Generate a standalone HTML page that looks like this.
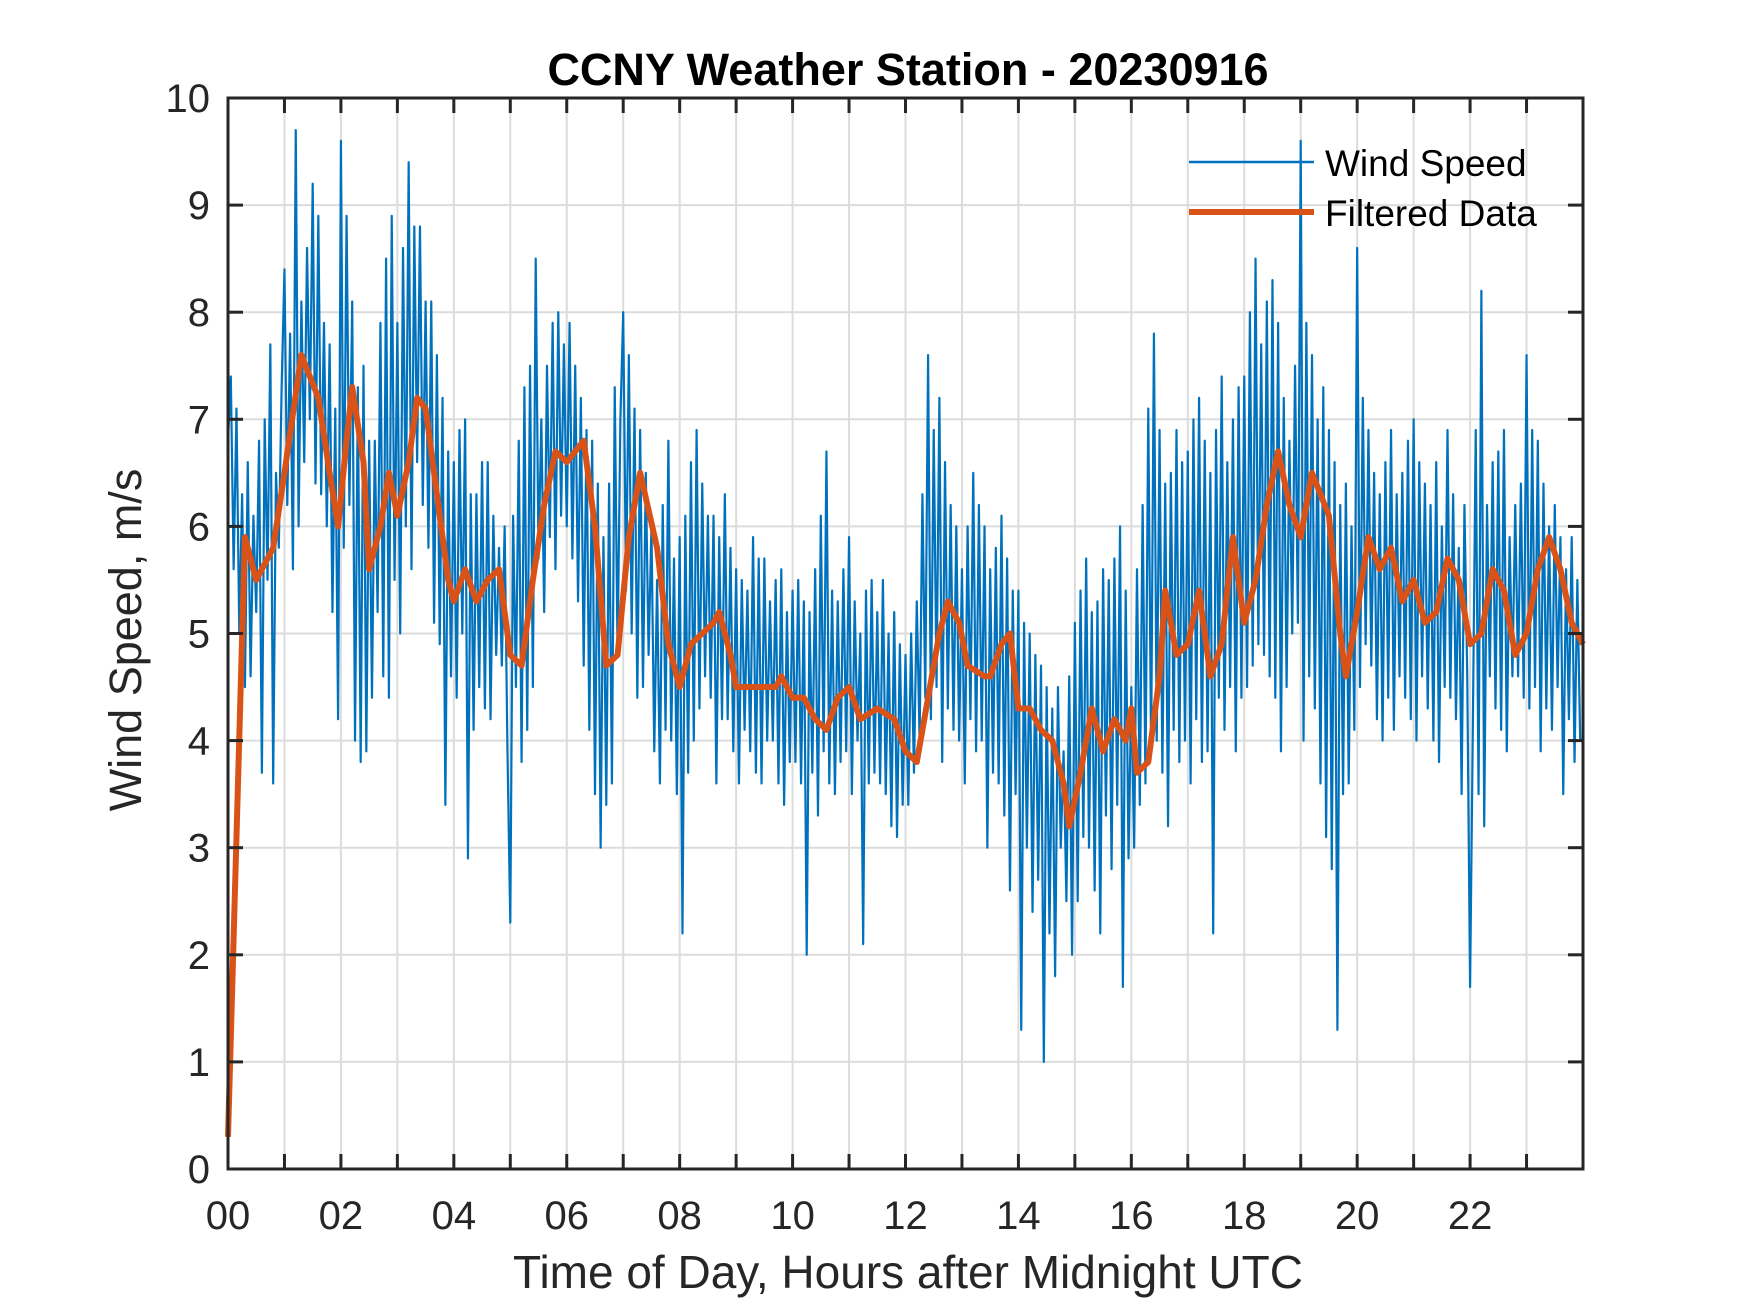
<!DOCTYPE html>
<html><head><meta charset="utf-8"><style>
html,body{margin:0;padding:0;background:#fff;}
svg{display:block;font-family:"Liberation Sans",Arial,sans-serif;}
</style></head><body>
<svg id="chart" width="1750" height="1313" viewBox="0 0 1750 1313" xmlns="http://www.w3.org/2000/svg">
<rect x="0" y="0" width="1750" height="1313" fill="#fff"/>
<g id="grid"></g>
<g id="series"></g>
<g id="axes"></g>
<text x="908" y="85" text-anchor="middle" font-size="45" font-weight="bold" fill="#000">CCNY Weather Station - 20230916</text>
<text x="908" y="1288" text-anchor="middle" font-size="46" fill="#262626">Time of Day, Hours after Midnight UTC</text>
<text transform="translate(141,640) rotate(-90)" text-anchor="middle" font-size="45" fill="#262626">Wind Speed, m/s</text>
<g>
<line x1="1189" y1="162" x2="1314" y2="162" stroke="#0072BD" stroke-width="2.5"/>
<text x="1325" y="176" font-size="37" fill="#000">Wind Speed</text>
<line x1="1189" y1="212" x2="1314" y2="212" stroke="#D95319" stroke-width="6"/>
<text x="1325" y="226" font-size="37" fill="#000">Filtered Data</text>
</g>
</svg>
<script>
const xTickLabels=["00","02","04","06","08","10","12","14","16","18","20","22"];
const yTickLabels=[0,1,2,3,4,5,6,7,8,9,10];
const windSpeed=[
6.8,7.4,5.6,7.1,5.0,6.3,4.5,6.6,4.6,6.1,5.2,6.8,3.7,7.0,5.5,7.7,3.6,6.5,5.8,7.3,
8.4,6.2,7.8,5.6,9.7,6.0,8.1,6.6,8.6,7.0,9.2,6.4,8.9,6.3,7.9,6.0,7.7,5.2,7.1,4.2,
9.6,5.8,8.9,6.2,8.1,4.0,7.3,3.8,7.5,3.9,6.8,4.4,6.8,5.2,7.9,4.6,8.5,4.4,8.9,5.5,
7.9,5.0,8.6,6.0,9.4,5.6,8.8,6.6,8.8,6.2,8.1,5.8,8.1,5.1,7.6,4.9,7.2,3.4,6.7,4.6,
6.6,4.4,6.9,5.0,7.0,2.9,6.3,4.1,6.3,4.5,6.6,4.3,6.6,4.2,6.1,4.8,5.8,4.7,6.0,3.9,
2.3,6.1,4.5,6.8,3.8,7.3,4.1,7.5,4.5,8.5,5.7,7.0,5.2,7.5,5.9,7.9,5.6,8.0,6.1,7.7,
6.0,7.9,5.7,7.5,5.3,7.2,4.7,6.9,4.1,6.8,3.5,6.4,3.0,5.9,3.4,6.4,3.6,7.3,4.8,7.0,
8.0,5.4,7.6,5.0,7.1,4.4,6.9,4.5,6.5,4.8,6.0,3.9,5.5,3.6,6.2,4.1,6.8,4.0,5.7,3.5,
5.9,2.2,6.1,3.7,6.6,4.0,6.9,4.3,6.4,4.6,6.1,4.4,6.1,3.6,5.9,4.2,6.3,4.2,5.8,3.9,
5.6,3.6,5.5,4.1,5.4,3.9,5.9,3.7,5.7,3.6,5.7,4.0,5.3,4.0,5.5,3.6,5.6,3.4,5.2,3.8,
5.4,3.8,5.5,3.6,5.3,2.0,5.2,3.7,5.6,3.3,6.1,3.9,6.7,3.6,5.4,3.5,5.3,3.8,5.6,3.9,
5.9,3.5,5.3,4.0,5.0,2.1,5.4,3.6,5.5,3.7,5.2,3.6,5.5,3.5,5.0,3.2,5.2,3.1,4.9,3.4,
4.8,3.4,5.0,3.7,5.3,4.0,6.3,4.4,7.6,4.2,6.9,4.5,7.2,3.8,6.6,4.3,6.2,4.1,6.0,4.0,
5.6,3.6,6.0,4.2,6.5,3.9,6.2,4.0,6.0,3.0,5.6,3.7,5.8,3.6,6.1,3.3,5.7,2.6,5.4,3.5,
5.4,1.3,5.1,3.0,5.0,2.4,4.8,2.7,4.7,1.0,4.5,2.2,4.3,1.8,4.5,3.0,3.9,2.5,4.6,2.0,
5.1,2.5,5.4,3.1,5.7,3.0,5.2,2.6,5.3,2.2,5.6,3.3,5.5,2.8,5.7,3.4,6.0,1.7,5.4,2.9,
4.5,3.0,5.6,3.4,6.2,3.6,7.1,3.9,7.8,4.0,6.9,3.7,6.4,3.2,6.5,4.1,6.9,3.8,6.6,4.0,
6.7,3.6,7.0,4.2,7.2,3.8,6.8,3.9,6.5,2.2,6.9,4.4,7.4,4.1,6.6,4.5,7.0,3.9,7.3,4.4,
7.4,4.5,8.0,4.7,8.5,4.9,7.7,4.8,8.1,4.6,8.3,4.4,7.9,3.9,7.2,4.5,6.8,5.0,7.5,5.1,
9.6,4.0,7.9,4.6,7.6,4.3,7.0,3.6,7.3,3.1,6.9,2.8,6.6,1.3,6.2,3.5,6.4,3.6,6.0,4.1,
8.6,4.5,7.2,4.9,6.9,4.7,6.5,4.2,6.3,4.0,6.6,4.4,6.9,4.1,6.3,4.6,6.5,4.4,6.8,4.2,
7.0,4.0,6.6,4.6,6.4,4.3,6.2,4.0,6.6,3.8,6.0,4.5,6.9,4.4,6.3,4.2,5.8,3.5,6.2,4.6,
1.7,4.2,6.9,3.5,8.2,3.2,6.2,4.6,6.6,4.3,6.7,4.1,6.9,3.9,5.9,4.6,6.2,4.6,6.4,4.4,
7.6,4.3,6.9,4.5,6.8,3.9,6.4,4.3,6.0,4.1,6.2,4.5,5.9,3.5,5.6,4.2,5.9,3.8,5.5,4.0];
const filteredHours=[0,0.3,0.5,0.8,1.0,1.3,1.6,1.8,1.95,2.1,2.2,2.4,2.5,2.7,2.85,3.0,3.2,3.35,3.5,3.7,3.9,4.0,4.2,4.4,4.6,4.8,5.0,5.2,5.4,5.6,5.8,6.0,6.3,6.5,6.7,6.9,7.1,7.3,7.6,7.8,8.0,8.2,8.4,8.6,8.7,8.9,9.0,9.4,9.7,9.8,10.0,10.2,10.4,10.6,10.8,11.0,11.2,11.5,11.8,12.0,12.2,12.4,12.6,12.75,12.95,13.1,13.4,13.5,13.7,13.85,14.0,14.2,14.4,14.6,14.8,14.9,15.1,15.3,15.5,15.7,15.9,16.0,16.1,16.3,16.5,16.6,16.8,17.0,17.2,17.4,17.6,17.8,18.0,18.2,18.4,18.6,18.8,19.0,19.2,19.5,19.7,19.8,20.0,20.2,20.4,20.6,20.8,21.0,21.2,21.4,21.6,21.8,22.0,22.2,22.4,22.6,22.8,23.0,23.2,23.4,23.6,23.8,24.0];
const filteredValues=[0.3,5.9,5.5,5.8,6.5,7.6,7.2,6.5,6.0,6.8,7.3,6.6,5.6,6.0,6.5,6.1,6.6,7.2,7.1,6.3,5.5,5.3,5.6,5.3,5.5,5.6,4.8,4.7,5.5,6.2,6.7,6.6,6.8,6.0,4.7,4.8,5.9,6.5,5.8,4.9,4.5,4.9,5.0,5.1,5.2,4.8,4.5,4.5,4.5,4.6,4.4,4.4,4.2,4.1,4.4,4.5,4.2,4.3,4.2,3.9,3.8,4.4,5.0,5.3,5.1,4.7,4.6,4.6,4.9,5.0,4.3,4.3,4.1,4.0,3.6,3.2,3.7,4.3,3.9,4.2,4.0,4.3,3.7,3.8,4.6,5.4,4.8,4.9,5.4,4.6,4.9,5.9,5.1,5.5,6.2,6.7,6.2,5.9,6.5,6.1,5.0,4.6,5.2,5.9,5.6,5.8,5.3,5.5,5.1,5.2,5.7,5.5,4.9,5.0,5.6,5.4,4.8,5.0,5.6,5.9,5.6,5.1,4.9];

const L=228,R=1583,T=98,B=1169,XMAX=24,YMAX=10;
const NS="http://www.w3.org/2000/svg";
function xs(h){return L+(R-L)*h/XMAX;}
function ys(v){return B-(B-T)*v/YMAX;}
function mk(tag,attrs,parent){const e=document.createElementNS(NS,tag);for(const k in attrs)e.setAttribute(k,attrs[k]);parent.appendChild(e);return e;}
const grid=document.getElementById('grid'),axes=document.getElementById('axes'),series=document.getElementById('series');
for(let h=1;h<XMAX;h++){
  const g=mk('line',{x1:xs(h),x2:xs(h),y1:T,y2:B,stroke:'#dcdcdc','stroke-width':2},grid);
  
  
}
for(let v=1;v<YMAX;v++){
  const g=mk('line',{x1:L,x2:R,y1:ys(v),y2:ys(v),stroke:'#dcdcdc','stroke-width':2},grid);
  
  
}
let d='';
const n=windSpeed.length;
windSpeed.forEach((v,i)=>{d+=(i?'L':'M')+xs(i*XMAX/n).toFixed(2)+','+ys(v).toFixed(2);});
const ws=mk('path',{d:d,fill:'none',stroke:'#0072BD','stroke-width':2.2,'stroke-linejoin':'round'},series);


let d2='';
filteredHours.forEach((h,i)=>{d2+=(i?'L':'M')+xs(h).toFixed(2)+','+ys(filteredValues[i]).toFixed(2);});
const fl=mk('path',{d:d2,fill:'none',stroke:'#D95319','stroke-width':6,'stroke-linejoin':'round'},series);


const box=mk('rect',{x:L,y:T,width:R-L,height:B-T,fill:'none',stroke:'#262626','stroke-width':3},axes);


for(let h=1;h<XMAX;h++){
  const t1=mk('line',{x1:xs(h),x2:xs(h),y1:B,y2:B-15,stroke:'#262626','stroke-width':3},axes);
  
  
  const t2=mk('line',{x1:xs(h),x2:xs(h),y1:T,y2:T+15,stroke:'#262626','stroke-width':3},axes);
  
  
}
xTickLabels.forEach((lab,i)=>{
  const t=mk('text',{x:xs(i*2),y:1229,'text-anchor':'middle','font-size':40,fill:'#262626'},axes);
  t.textContent=lab;
  
  
});
yTickLabels.forEach(v=>{
  if(v>0&&v<YMAX){
    const a=mk('line',{x1:L,x2:L+15,y1:ys(v),y2:ys(v),stroke:'#262626','stroke-width':3},axes);
    
    
    const b=mk('line',{x1:R,x2:R-15,y1:ys(v),y2:ys(v),stroke:'#262626','stroke-width':3},axes);
    
    
  }
  const t=mk('text',{x:210,y:ys(v)+14,'text-anchor':'end','font-size':40,fill:'#262626'},axes);
  t.textContent=v;
  
  
});
</script>
</body></html>
